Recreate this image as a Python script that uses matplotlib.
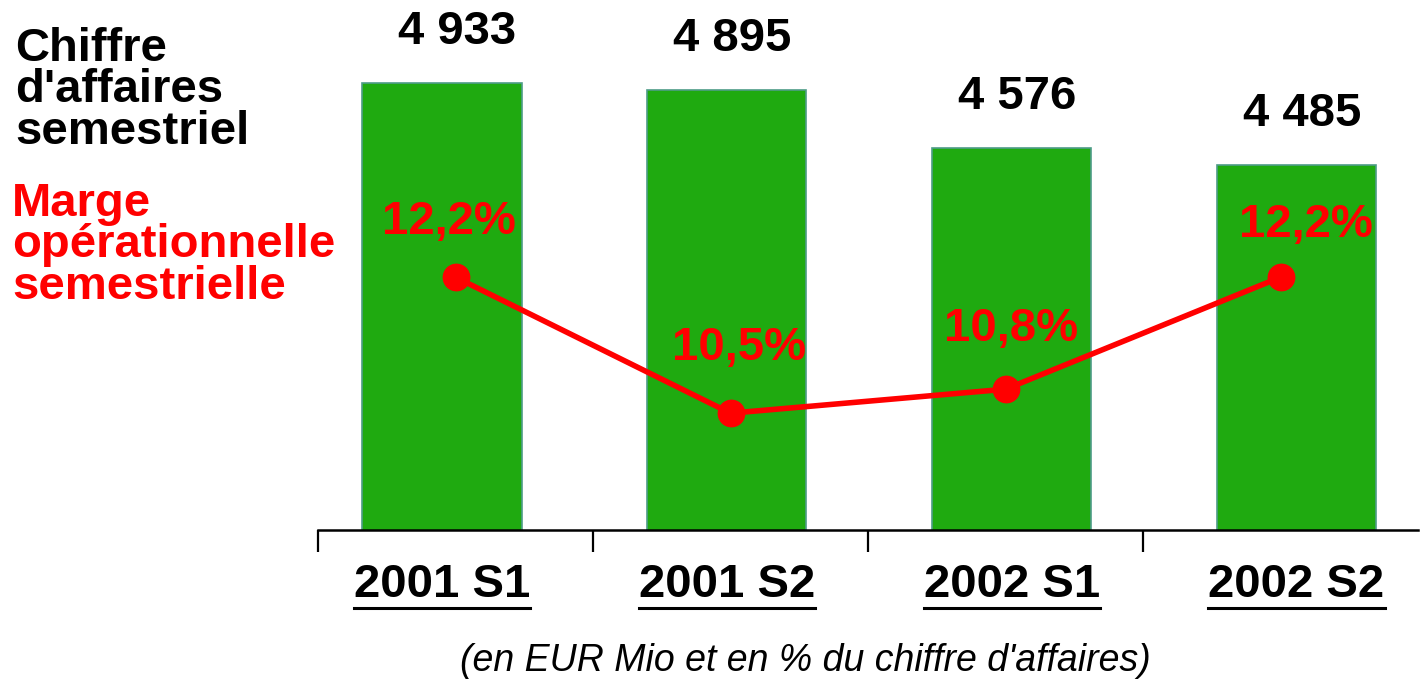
import matplotlib
matplotlib.use("Agg")
import matplotlib.pyplot as plt
from matplotlib.lines import Line2D
import numpy as np

# donnees
periodes = ["2001 S1", "2001 S2", "2002 S1", "2002 S2"]
chiffre_affaires = [4933, 4895, 4576, 4485]
marge_op = [12.2, 10.5, 10.8, 12.2]
ca_labels = ["4 933", "4 895", "4 576", "4 485"]
marge_labels = ["12,2%", "10,5%", "10,8%", "12,2%"]

plt.rcParams['font.family'] = ['Liberation Sans', 'DejaVu Sans']

VERT = "#1FAA10"
ROUGE = "#FF0000"

fig = plt.figure(figsize=(14.25, 6.81), dpi=100)
W, H = 1425.0, 681.0
ax = fig.add_axes([318 / W, (H - 530) / H, (1425 - 318) / W, 530 / H])

pos = np.arange(len(periodes))
pos_barres = pos * 1.036 - 0.05

ax.bar(pos_barres, chiffre_affaires, width=0.58, color=VERT,
       edgecolor="#4E9C88", linewidth=1.2, zorder=2)
ax.set_ylim(2490, 5387)
ax.set_xlim(-0.5, 3.525)

decal_ca = [7, 0, 0, 0]  # petit decalage horizontal (pt)
for x, v, lab, dx in zip(pos_barres, chiffre_affaires, ca_labels, decal_ca):
    ax.annotate(lab, (x + 0.02, v), xytext=(dx, 28), textcoords="offset points",
                ha="center", va="baseline", fontsize=34, fontweight="bold",
                color="black")

# axes
for s in ["left", "right", "top"]:
    ax.spines[s].set_visible(False)
ax.spines["bottom"].set_linewidth(1.8)
ax.spines["bottom"].set_bounds(-0.5, 3.5)
ax.set_yticks([])
ax.set_xticks([-0.5, 0.5, 1.5, 2.5])
ax.set_xticklabels([])
ax.tick_params(axis="x", direction="out", length=16, width=1.6, color="black")

# ligne de marge
ax2 = ax.twinx()
ax2.set_ylim(9.04, 15.665)
ax2.plot(pos, marge_op, color=ROUGE, linewidth=4, marker="o",
         markersize=19, zorder=3)
decal = [(-5, 31), (6, 38), (4, 35), (18, 29)]  # decalage des etiquettes (pt)
for x, v, lab, (dx, dy) in zip(pos, marge_op, marge_labels, decal):
    ax2.annotate(lab, (x, v), xytext=(dx, dy), textcoords="offset points",
                 ha="center", va="baseline", fontsize=34, fontweight="bold",
                 color=ROUGE)
ax2.axis("off")

# etiquettes de categories soulignees
cat_txt = []
for x, lab in zip(pos_barres, periodes):
    t = ax.text(x, -0.127, lab, transform=ax.get_xaxis_transform(),
                ha="center", va="baseline", fontsize=34, fontweight="bold",
                color="black")
    cat_txt.append(t)

# textes a gauche
fig.text(15 / W, 1 - 27 / H, "Chiffre\nd'affaires\nsemestriel", ha="left",
         va="top", fontsize=34, fontweight="bold", color="black",
         linespacing=0.92, multialignment="left")
fig.text(12 / W, 1 - 182 / H, "Marge\nopérationnelle\nsemestrielle", ha="left",
         va="top", fontsize=34, fontweight="bold", color=ROUGE,
         linespacing=0.92, multialignment="left")

fig.text(805 / W, 1 - 671 / H, "(en EUR Mio et en % du chiffre d'affaires)",
         ha="center", va="baseline", fontsize=27, style="italic", color="black")

fig.canvas.draw()
r = fig.canvas.get_renderer()
for t in cat_txt:
    bb = t.get_window_extent(r)
    y = bb.y0 - 1
    fig.add_artist(Line2D([bb.x0 / W, bb.x1 / W], [y / H, y / H],
                          transform=fig.transFigure, color="black",
                          linewidth=2.2))

fig.savefig("out.png", dpi=100)
